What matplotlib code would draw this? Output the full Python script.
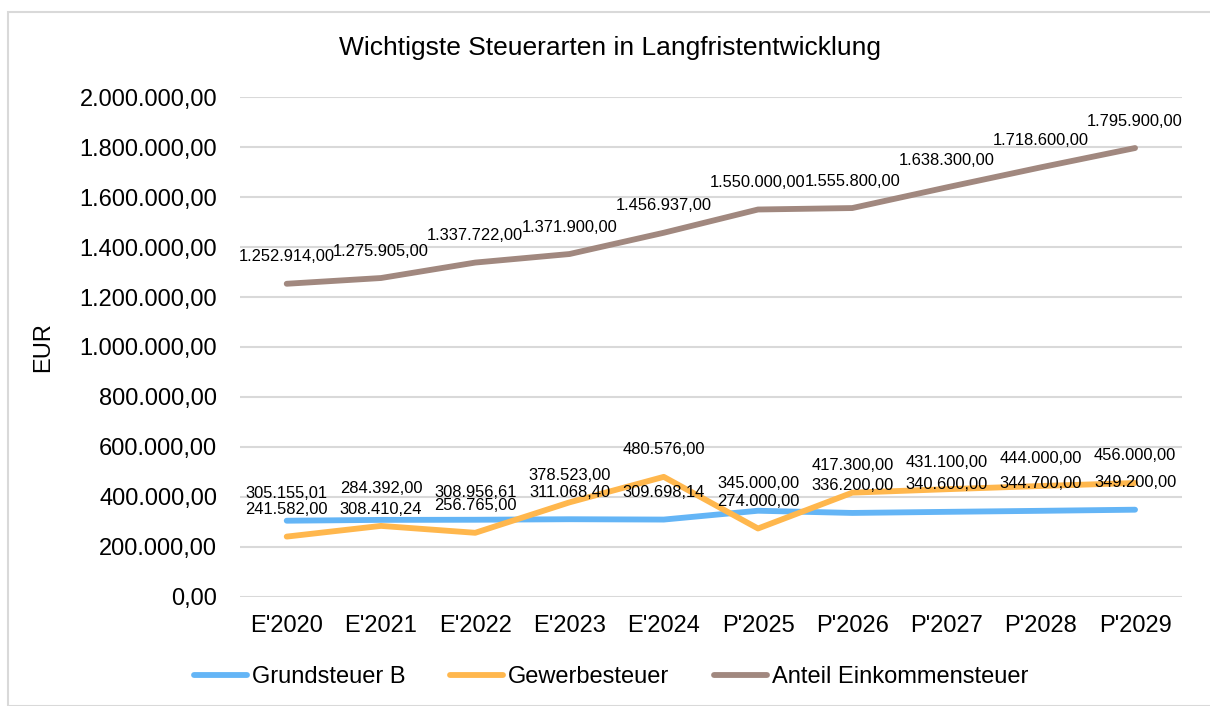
"""Wichtigste Steuerarten in Langfristentwicklung - line chart."""

import matplotlib

matplotlib.use("Agg")

import matplotlib.pyplot as plt
from matplotlib.patches import Rectangle
from matplotlib.ticker import FuncFormatter

plt.rcParams["font.family"] = ["Liberation Sans", "DejaVu Sans"]

YEARS = ["E'2020", "E'2021", "E'2022", "E'2023", "E'2024",
         "P'2025", "P'2026", "P'2027", "P'2028", "P'2029"]

GRUNDSTEUER_B = [305155.01, 308410.24, 308956.61, 311068.40, 309698.14,
                 345000.00, 336200.00, 340600.00, 344700.00, 349200.00]
GEWERBESTEUER = [241582.00, 284392.00, 256765.00, 378523.00, 480576.00,
                 274000.00, 417300.00, 431100.00, 444000.00, 456000.00]
EINKOMMENSTEUER = [1252914.00, 1275905.00, 1337722.00, 1371900.00, 1456937.00,
                   1550000.00, 1555800.00, 1638300.00, 1718600.00, 1795900.00]

SERIES = [
    ("Grundsteuer B", GRUNDSTEUER_B, "#64B5F6"),
    ("Gewerbesteuer", GEWERBESTEUER, "#FFB74D"),
    ("Anteil Einkommensteuer", EINKOMMENSTEUER, "#A1887F"),
]

# label offset above the point (pixels); a few labels were nudged in the source
LABEL_OFFSET = 27
LABEL_NUDGE = {("Grundsteuer B", 1): 10, ("Gewerbesteuer", 1): 37}


def de_format(value: float, _pos=None) -> str:
    """Format a number the German way: 1.234.567,89."""
    text = f"{value:,.2f}"
    return text.replace(",", "X").replace(".", ",").replace("X", ".")


def main() -> None:
    fig = plt.figure(figsize=(12.10, 7.06), dpi=100)
    ax = fig.add_axes([0.198, 0.1544, 0.779, 0.7082])

    # light chart-area border
    fig.patches.append(Rectangle((8 / 1210, 0), 1.2, 1 - 12 / 706,
                                 transform=fig.transFigure, fill=False,
                                 edgecolor="#D9D9D9", linewidth=1.5))

    x = list(range(len(YEARS)))
    for name, values, color in SERIES:
        ax.plot(x, values, color=color, linewidth=4.2, label=name,
                solid_capstyle="round", zorder=3)
        for xi, v in zip(x, values):
            dy = LABEL_NUDGE.get((name, xi), LABEL_OFFSET)
            ax.annotate(de_format(v), (xi, v), xytext=(0, dy),
                        textcoords="offset pixels", ha="center", va="center",
                        fontsize=11.9, color="#000000", zorder=4)

    ax.set_xlim(-0.5, len(YEARS) - 0.5)
    ax.set_ylim(0, 2000000)
    ax.set_yticks(range(0, 2000001, 200000))
    ax.yaxis.set_major_formatter(FuncFormatter(de_format))
    ax.set_xticks(x)
    ax.set_xticklabels(YEARS)
    ax.tick_params(axis="both", length=0, labelsize=17, colors="#000000")
    ax.tick_params(axis="y", pad=16)
    ax.tick_params(axis="x", pad=13)
    ax.grid(axis="y", color="#D9D9D9", linewidth=1.5, zorder=0)
    ax.set_axisbelow(True)
    for spine in ax.spines.values():
        spine.set_visible(False)

    ax.set_ylabel("EUR", fontsize=17, labelpad=18)
    fig.text(0.504, 0.932, "Wichtigste Steuerarten in Langfristentwicklung",
             ha="center", va="center", fontsize=19)

    fig.legend(loc="center", bbox_to_anchor=(0.505, 1 - 677 / 706), ncol=3,
               frameon=False, fontsize=17, handlelength=2.25,
               handletextpad=0.2, columnspacing=1.9)

    fig.savefig("out.png", dpi=100)
    plt.close(fig)


if __name__ == "__main__":
    main()
